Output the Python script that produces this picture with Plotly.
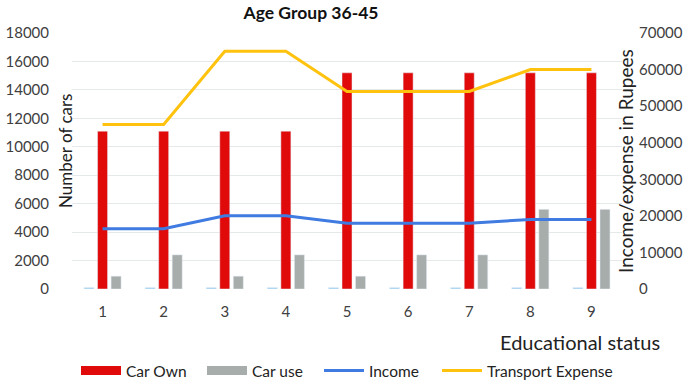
import plotly.graph_objects as go

categories = ["1", "2", "3", "4", "5", "6", "7", "8", "9"]
minor_series = [100, 100, 100, 100, 100, 100, 100, 100, 100]
car_own = [11100, 11100, 11100, 11100, 15200, 15200, 15200, 15200, 15200]
car_use = [900, 2400, 900, 2400, 900, 2400, 2400, 5600, 5600]
income = [16500, 16500, 20000, 20000, 18000, 18000, 18000, 19000, 19000]
transport = [45000, 45000, 65000, 65000, 54000, 54000, 54000, 60000, 60000]
left_ticks = [0, 2000, 4000, 6000, 8000, 10000, 12000, 14000, 16000, 18000]
right_ticks = [0, 10000, 20000, 30000, 40000, 50000, 60000, 70000]

RED = "#E10A0A"
GRAY = "#A7ADAA"
LBLUE = "#9CCFEF"
BLUE = "#3F7BE0"
YELLOW = "#FFC20E"
FONT = "Lato"
TXT = "#404040"

W, H = 685, 380

fig = go.Figure()
fig.add_trace(go.Bar(x=categories, y=minor_series, marker_color=LBLUE, showlegend=False, name=""))
fig.add_trace(go.Bar(x=categories, y=car_own, marker_color=RED, showlegend=False, name="Car Own"))
fig.add_trace(go.Bar(x=categories, y=car_use, marker_color=GRAY, showlegend=False, name="Car use"))
fig.add_trace(go.Scatter(x=categories, y=income, mode="lines", line=dict(color=BLUE, width=3),
                         yaxis="y2", showlegend=False, name="Income"))
fig.add_trace(go.Scatter(x=categories, y=transport, mode="lines", line=dict(color=YELLOW, width=3),
                         yaxis="y2", showlegend=False, name="Transport Expense"))

# legend entries (wide swatches like the original), each in its own legend box
legend_items = [("Car Own", RED, 9, 82), ("Car use", GRAY, 9, 208), ("Income", BLUE, 3, 325),
                ("Transport Expense", YELLOW, 3, 443)]
legend_layout = {}
for i, (nm, col, w, px) in enumerate(legend_items):
    key = "legend" if i == 0 else f"legend{i + 1}"
    fig.add_trace(go.Scatter(x=[None], y=[None], mode="lines", line=dict(color=col, width=w), name=nm,
                             yaxis="y2", legend=key))
    legend_layout[key] = dict(orientation="h", xref="paper", x=(px - 6 - 72) / 550, xanchor="left",
                              yref="container", y=(H - 371) / H, yanchor="middle",
                              font=dict(size=15.5, color="#222222"), itemwidth=40,
                              bgcolor="rgba(0,0,0,0)")

fig.update_layout(
    width=W, height=H,
    margin=dict(l=72, r=W - 622, t=33, b=H - 289),
    paper_bgcolor="white", plot_bgcolor="white",
    font=dict(family=FONT, size=15, color=TXT),
    barmode="group", bargap=0.336, bargroupgap=0.26,
    title=dict(text="<b>Age Group 36-45</b>", x=311 / W, xanchor="center",
               y=1 - 13 / H, yanchor="middle",
               font=dict(size=17.5, color="#111111", family=FONT)),
    xaxis=dict(type="category", showgrid=False, zeroline=False, showline=False, ticks="", automargin=False,
               tickfont=dict(size=15, color=TXT), ticklabelstandoff=12),
    yaxis=dict(range=[0, 18000], tickvals=left_ticks, ticktext=[str(v) for v in left_ticks],
               showgrid=True, gridcolor="#E6E9E9", gridwidth=1, automargin=False,
               zeroline=False, showline=False, ticks="", ticklabelstandoff=22,
               tickfont=dict(size=15, color=TXT)),
    yaxis2=dict(range=[0, 70000], tickvals=right_ticks, ticktext=[str(v) for v in right_ticks],
                overlaying="y", side="right", showgrid=False, automargin=False,
                zeroline=False, showline=False, ticks="", ticklabelstandoff=16,
                tickfont=dict(size=15, color=TXT)),
    annotations=[
        dict(text="Number of cars", xref="paper", yref="paper", x=-7 / 550, y=(289 - 151) / 256,
             textangle=-90, showarrow=False, xanchor="center", yanchor="middle",
             font=dict(size=17, color="#222222")),
        dict(text="Income/expense in Rupees", xref="paper", yref="paper", x=1 + 3 / 550, y=(289 - 161) / 256,
             textangle=-90, showarrow=False, xanchor="center", yanchor="middle",
             font=dict(size=19, color="#222222")),
        dict(text="Educational status", xref="paper", yref="paper", x=(662 - 72) / 550, y=(289 - 342) / 256,
             showarrow=False, xanchor="right", yanchor="middle", font=dict(size=20, color="#222222")),
    ],
    **legend_layout,
)

fig.write_html("out.html", config={"displayModeBar": False},
               post_script="document.body.style.margin='0';")
